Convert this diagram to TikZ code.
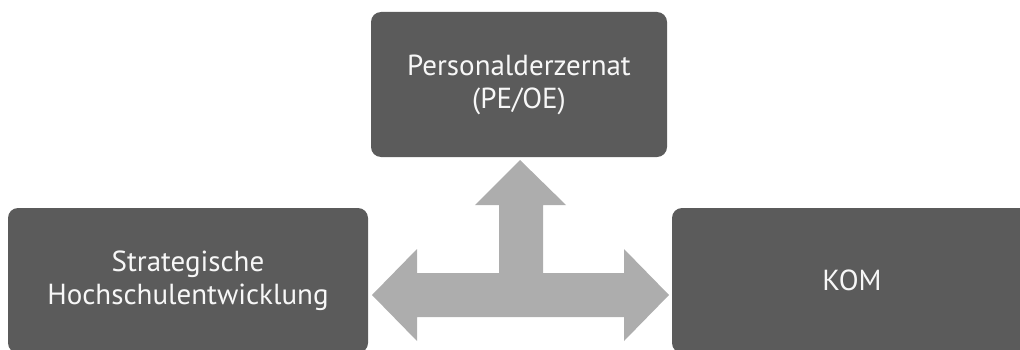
\documentclass[tikz,border=0pt]{standalone}
\usepackage{fontspec}
\setmainfont{PT Sans}
\usepackage{tikz}
\usetikzlibrary{positioning}
\definecolor{boxclr}{rgb}{0.357, 0.357, 0.357}
\definecolor{arrclr}{rgb}{0.678, 0.678, 0.678}
\definecolor{txtclr}{rgb}{0.97, 0.97, 0.97}
\tikzset{ %
  ,every node/.style={font=\fontsize{29}{33}\selectfont}
  ,unit/.style={fill=boxclr, text=txtclr, rounded corners=10pt, align=center, inner sep=0, minimum height=145pt}
  ,bigarrow/.style={fill=arrclr, draw=none}
}
\begin{document}
\begin{tikzpicture}[x=1pt, y=1pt]
      \useasboundingbox (0,0) rectangle (1020,349);
      \begin{scope}
      \clip (0,0) rectangle (1020,349);
      \node[unit, minimum width=296pt] (PE) at (519,264.5) {Personalderzernat\\(PE/OE)};
      \node[unit, minimum width=360pt] (SH) at (188,68.5) {Strategische\\Hochschulentwicklung};
      \node[unit, minimum width=360pt] (KOM) at (852,68.5) {KOM};
      \end{scope}
      % T-shaped arrow between the units
      \fill[bigarrow] (520,189) -- (566,144) -- (543,144) -- (543,76) -- (624,76) -- (624,100)
        -- (669,54) -- (624,8) -- (624,32) -- (417,32) -- (417,8) -- (372,54) -- (417,100)
        -- (417,76) -- (499,76) -- (499,144) -- (475,144) -- cycle;
    \end{tikzpicture}
\end{document}
